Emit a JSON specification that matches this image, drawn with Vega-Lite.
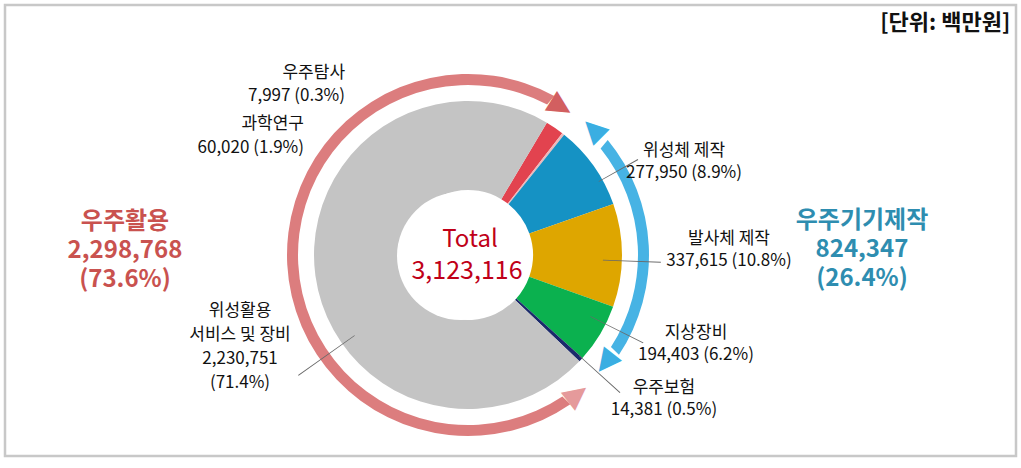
{
  "$schema": "https://vega.github.io/schema/vega-lite/v6.json",
  "autosize": "none",
  "width": 1011,
  "height": 451,
  "padding": {"left": 5, "top": 5, "right": 5, "bottom": 12},
  "background": "#ffffff",
  "config": {
    "view": {"stroke": "#c8c8c8", "strokeWidth": 2.5},
    "font": "Noto Sans CJK KR"
  },
  "title": {
    "text": "[단위: 백만원]",
    "anchor": "end",
    "orient": "top",
    "offset": -19,
    "dx": -7,
    "dy": 22,
    "baseline": "middle",
    "fontSize": 22,
    "fontWeight": "bold",
    "font": "Noto Sans CJK KR",
    "color": "#111111"
  },
  "datasets": {
    "items": [
      {"cat": "과학연구", "value": 60020, "rank": 1, "label": ["과학연구", "60,020 (1.9%)"]},
      {"cat": "우주탐사", "value": 7997, "rank": 2, "label": ["우주탐사", "7,997 (0.3%)"]},
      {"cat": "위성체 제작", "value": 277950, "rank": 3, "label": ["위성체 제작", "277,950 (8.9%)"]},
      {"cat": "발사체 제작", "value": 337615, "rank": 4, "label": ["발사체 제작", "337,615 (10.8%)"]},
      {"cat": "지상장비", "value": 194403, "rank": 5, "label": ["지상장비", "194,403 (6.2%)"]},
      {"cat": "우주보험", "value": 14381, "rank": 6, "label": ["우주보험", "14,381 (0.5%)"]},
      {"cat": "위성활용 서비스 및 장비", "value": 2230751, "rank": 7, "label": ["위성활용", "서비스 및 장비", "2,230,751", "(71.4%)"]}
    ],
    "groups": [
      {"grp": "우주기기제작", "value": 824347, "rank": 1, "label": ["우주기기제작", "824,347", "(26.4%)"]},
      {"grp": "우주활용", "value": 2298768, "rank": 2, "label": ["우주활용", "2,298,768", "(73.6%)"]}
    ],
    "total": [
      {"name": "Total", "value": 3123116}
    ]
  },
  "layer": [
    {
      "data": {"name": "total"},
      "mark": {"type": "rect", "fill": null, "stroke": "#c8c8c8", "strokeWidth": 2.5},
      "encoding": {}
    },
    {
      "data": {"name": "groups"},
      "layer": [
        {
          "mark": {"type": "arc", "radius": 181, "radius2": 170, "padAngle": 0.28, "xOffset": -42.5, "yOffset": 24.5},
          "encoding": {
            "theta": {"field": "value", "type": "quantitative", "stack": true, "scale": {"range": [0.6894, 6.9726]}},
            "order": {"field": "rank", "type": "quantitative"},
            "color": {"condition": {"test": "datum.grp === '우주활용'", "value": "#dc7d7e"}, "value": "#47b3e4"}
          }
        },
        {
          "transform": [{"filter": "datum.grp === '우주활용'"}],
          "mark": {"type": "text", "text": "▶", "font": "DejaVu Sans", "fontSize": 30, "radius": 176, "angle": 32, "align": "center", "baseline": "middle", "color": "#d25f60", "xOffset": -42.5, "yOffset": 24.5},
          "encoding": {"theta": {"datum": 3058043, "type": "quantitative"}}
        },
        {
          "transform": [{"filter": "datum.grp === '우주활용'"}],
          "mark": {"type": "text", "text": "▶", "font": "DejaVu Sans", "fontSize": 30, "radius": 176, "angle": 322, "align": "center", "baseline": "middle", "color": "#e59a9b", "xOffset": -42.5, "yOffset": 24.5},
          "encoding": {"theta": {"datum": 889218, "type": "quantitative"}}
        },
        {
          "transform": [{"filter": "datum.grp === '우주기기제작'"}],
          "mark": {"type": "text", "text": "▶", "font": "DejaVu Sans", "fontSize": 30, "radius": 176, "angle": 225, "align": "center", "baseline": "middle", "color": "#3aaee2", "xOffset": -42.5, "yOffset": 24.5},
          "encoding": {"theta": {"datum": 47714, "type": "quantitative"}}
        },
        {
          "transform": [{"filter": "datum.grp === '우주기기제작'"}],
          "mark": {"type": "text", "text": "▶", "font": "DejaVu Sans", "fontSize": 30, "radius": 176, "angle": 128, "align": "center", "baseline": "middle", "color": "#3aaee2", "xOffset": -42.5, "yOffset": 24.5},
          "encoding": {"theta": {"datum": 767764, "type": "quantitative"}}
        },
        {
          "mark": {"type": "text", "radius": 343, "dx": -0.5, "dy": -51, "align": "center", "baseline": "middle", "fontSize": 24, "fontWeight": "bold", "lineHeight": 29, "color": "#c9524f", "xOffset": -42.5, "yOffset": 24.5},
          "encoding": {
            "theta": {"field": "value", "type": "quantitative", "stack": true},
            "order": {"field": "rank", "type": "quantitative"},
            "text": {"condition": {"test": "datum.grp === '우주활용'", "field": "label"}, "value": ""}
          }
        },
        {
          "mark": {"type": "text", "radius": 395, "dx": -0.5, "dy": -13, "align": "center", "baseline": "middle", "fontSize": 24, "fontWeight": "bold", "lineHeight": 29, "color": "#2e8db0", "xOffset": -42.5, "yOffset": 24.5},
          "encoding": {
            "theta": {"field": "value", "type": "quantitative", "stack": true},
            "order": {"field": "rank", "type": "quantitative"},
            "text": {"condition": {"test": "datum.grp === '우주기기제작'", "field": "label"}, "value": ""}
          }
        }
      ]
    },
    {
      "data": {"name": "items"},
      "layer": [
        {
          "mark": {"type": "arc", "radius": 154, "radius2": 65, "xOffset": -42.5, "yOffset": 24.5},
          "encoding": {
            "theta": {"field": "value", "type": "quantitative", "stack": true, "scale": {"range": [0.5376, 6.8208]}},
            "order": {"field": "rank", "type": "quantitative"},
            "color": {
              "field": "cat", "type": "nominal", "legend": null,
              "scale": {
                "domain": ["과학연구", "우주탐사", "위성체 제작", "발사체 제작", "지상장비", "우주보험", "위성활용 서비스 및 장비"],
                "range": ["#e2434f", "#ecb8bb", "#1592c4", "#dea600", "#0bb14f", "#1b2a6b", "#c4c4c4"]
              }
            }
          }
        },
        {
          "transform": [{"filter": "datum.rank === 3"}],
          "mark": {"type": "arc", "radius": 195, "radius2": 150, "color": "#6a6a6a", "xOffset": -42.5, "yOffset": 24.5},
          "encoding": {"theta": {"datum": 257657, "type": "quantitative"}, "theta2": {"datum": 260400}}
        },
        {
          "transform": [{"filter": "datum.rank === 4"}],
          "mark": {"type": "arc", "radius": 193, "radius2": 135, "color": "#6a6a6a", "xOffset": -42.5, "yOffset": 24.5},
          "encoding": {"theta": {"datum": 530930, "type": "quantitative"}, "theta2": {"datum": 533500}}
        },
        {
          "transform": [{"filter": "datum.rank === 5"}],
          "mark": {"type": "arc", "radius": 196, "radius2": 137, "color": "#6a6a6a", "xOffset": -42.5, "yOffset": 24.5},
          "encoding": {"theta": {"datum": 743476, "type": "quantitative"}, "theta2": {"datum": 746050}}
        },
        {
          "transform": [{"filter": "datum.rank === 6"}],
          "mark": {"type": "arc", "radius": 205, "radius2": 150, "color": "#6a6a6a", "xOffset": -42.5, "yOffset": 24.5},
          "encoding": {"theta": {"datum": 877944, "type": "quantitative"}, "theta2": {"datum": 880450}}
        },
        {
          "transform": [{"filter": "datum.rank === 7"}],
          "mark": {"type": "arc", "radius": 208, "radius2": 139, "color": "#6a6a6a", "xOffset": -42.5, "yOffset": 24.5},
          "encoding": {"theta": {"datum": 1767165, "type": "quantitative"}, "theta2": {"datum": 1769700}}
        },
        {
          "mark": {"type": "text", "radius": 200, "dx": -276.6, "dy": 33.8, "align": "right", "baseline": "middle", "fontSize": 17, "lineHeight": 24, "color": "#111111", "xOffset": -42.5, "yOffset": 24.5},
          "encoding": {
            "theta": {"field": "value", "type": "quantitative", "stack": true},
            "order": {"field": "rank", "type": "quantitative"},
            "text": {"condition": {"test": "datum.cat === '과학연구'", "field": "label"}, "value": ""}
          }
        },
        {
          "mark": {"type": "text", "radius": 200, "dx": -246.6, "dy": -24.3, "align": "right", "baseline": "middle", "fontSize": 17, "lineHeight": 23, "color": "#111111", "xOffset": -42.5, "yOffset": 24.5},
          "encoding": {
            "theta": {"field": "value", "type": "quantitative", "stack": true},
            "order": {"field": "rank", "type": "quantitative"},
            "text": {"condition": {"test": "datum.cat === '우주탐사'", "field": "label"}, "value": ""}
          }
        },
        {
          "mark": {"type": "text", "radius": 200, "dx": 52.9, "dy": 11.7, "align": "center", "baseline": "middle", "fontSize": 17, "lineHeight": 22, "color": "#111111", "xOffset": -42.5, "yOffset": 24.5},
          "encoding": {
            "theta": {"field": "value", "type": "quantitative", "stack": true},
            "order": {"field": "rank", "type": "quantitative"},
            "text": {"condition": {"test": "datum.cat === '위성체 제작'", "field": "label"}, "value": ""}
          }
        },
        {
          "mark": {"type": "text", "radius": 200, "dx": 61, "dy": -16.5, "align": "center", "baseline": "middle", "fontSize": 17, "lineHeight": 22, "color": "#111111", "xOffset": -42.5, "yOffset": 24.5},
          "encoding": {
            "theta": {"field": "value", "type": "quantitative", "stack": true},
            "order": {"field": "rank", "type": "quantitative"},
            "text": {"condition": {"test": "datum.cat === '발사체 제작'", "field": "label"}, "value": ""}
          }
        },
        {
          "mark": {"type": "text", "radius": 200, "dx": 56.2, "dy": -24.4, "align": "center", "baseline": "middle", "fontSize": 17, "lineHeight": 22, "color": "#111111", "xOffset": -42.5, "yOffset": 24.5},
          "encoding": {
            "theta": {"field": "value", "type": "quantitative", "stack": true},
            "order": {"field": "rank", "type": "quantitative"},
            "text": {"condition": {"test": "datum.cat === '지상장비'", "field": "label"}, "value": ""}
          }
        },
        {
          "mark": {"type": "text", "radius": 200, "dx": 49.3, "dy": -2.5, "align": "center", "baseline": "middle", "fontSize": 17, "lineHeight": 22, "color": "#111111", "xOffset": -42.5, "yOffset": 24.5},
          "encoding": {
            "theta": {"field": "value", "type": "quantitative", "stack": true},
            "order": {"field": "rank", "type": "quantitative"},
            "text": {"condition": {"test": "datum.cat === '우주보험'", "field": "label"}, "value": ""}
          }
        },
        {
          "mark": {"type": "text", "radius": 200, "dx": -29.8, "dy": 29, "align": "center", "baseline": "middle", "fontSize": 17, "lineHeight": 24, "color": "#111111", "xOffset": -42.5, "yOffset": 24.5},
          "encoding": {
            "theta": {"field": "value", "type": "quantitative", "stack": true},
            "order": {"field": "rank", "type": "quantitative"},
            "text": {"condition": {"test": "datum.cat === '위성활용 서비스 및 장비'", "field": "label"}, "value": ""}
          }
        }
      ]
    },
    {
      "data": {"name": "total"},
      "layer": [
        {
          "mark": {"type": "arc", "radius": 64, "radius2": 0, "color": "#ffffff", "xOffset": -49.5, "yOffset": 25.5},
          "encoding": {}
        },
        {
          "mark": {"type": "text", "align": "center", "baseline": "middle", "fontSize": 24, "color": "#c00018", "dx": 2, "dy": -15, "xOffset": -42.5, "yOffset": 24.5},
          "encoding": {"text": {"field": "name"}}
        },
        {
          "mark": {"type": "text", "align": "center", "baseline": "middle", "fontSize": 25, "color": "#c00018", "dx": -1, "dy": 16, "xOffset": -42.5, "yOffset": 24.5},
          "encoding": {"text": {"field": "value", "type": "quantitative", "format": ","}}
        }
      ]
    }
  ],
  "resolve": {"scale": {"theta": "independent"}}
}
